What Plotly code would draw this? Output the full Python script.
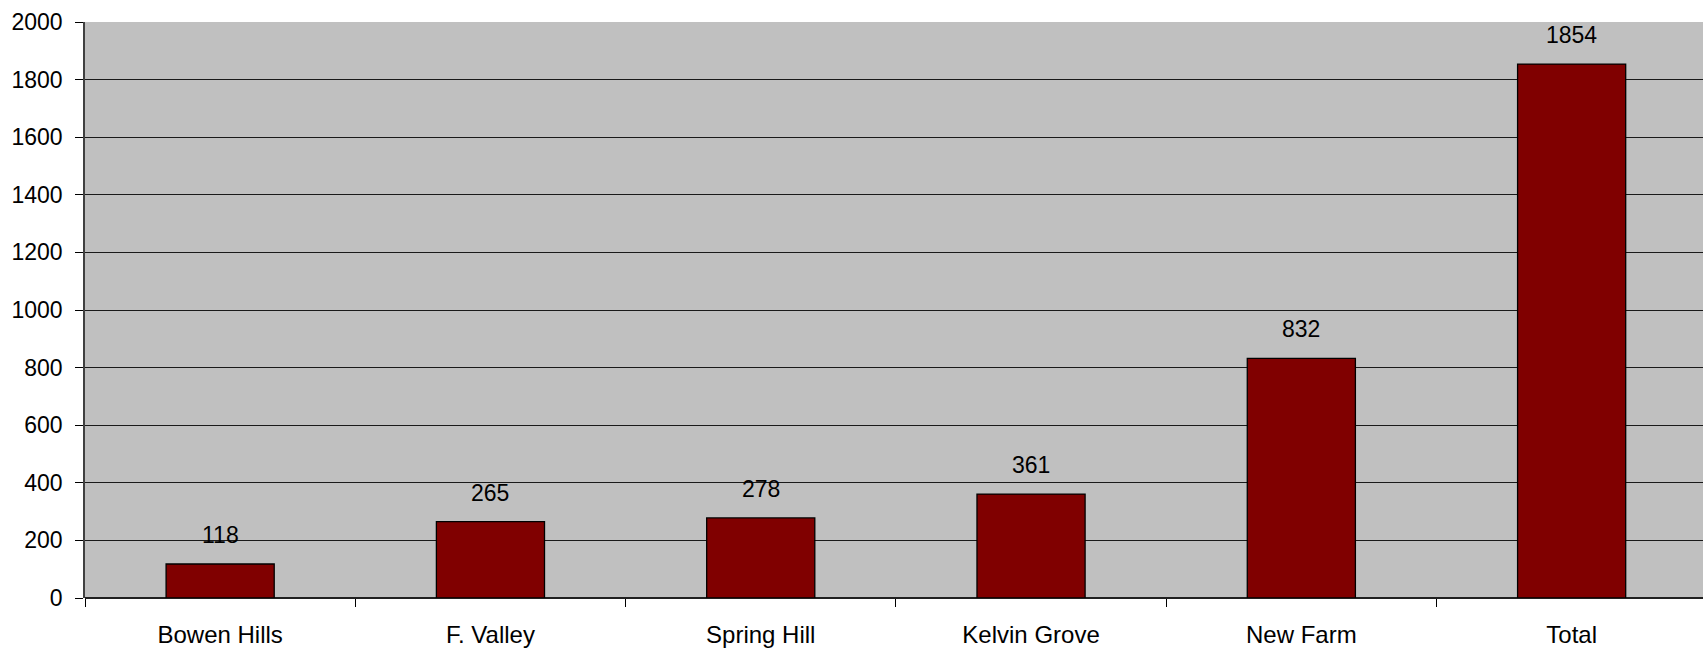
import plotly.graph_objects as go

categories = ["Bowen Hills", "F. Valley", "Spring Hill", "Kelvin Grove", "New Farm", "Total"]
values = [118, 265, 278, 361, 832, 1854]
y_ticks = [0, 200, 400, 600, 800, 1000, 1200, 1400, 1600, 1800, 2000]

FONT = "Liberation Sans, Arial, sans-serif"
FS = 23

fig = go.Figure()
fig.add_trace(go.Bar(
    x=categories, y=values, width=0.4,
    marker=dict(color="#800000", line=dict(color="#000000", width=1.3)),
    hoverinfo="x+y",
))
for c, v in zip(categories, values):
    fig.add_annotation(x=c, y=v, text=str(v), showarrow=False, yshift=29,
                       font=dict(family=FONT, size=FS, color="#000000"))

fig.update_layout(
    width=1703, height=650,
    margin=dict(l=85, r=0, t=22, b=52, autoexpand=False),
    paper_bgcolor="#FFFFFF", plot_bgcolor="#C0C0C0",
    showlegend=False,
    font=dict(family=FONT, size=FS, color="#000000"),
    bargap=0.6,
)
fig.update_xaxes(
    range=[-0.5, 5.486], tickson="boundaries", ticks="outside", ticklen=8,
    tickcolor="#000000", showgrid=False, showline=False,
    ticklabelstandoff=20, tickfont=dict(size=24),
)
fig.update_yaxes(
    range=[0, 2000], tickvals=y_ticks, ticks="outside", ticklen=8, tickcolor="#000000",
    showgrid=True, gridcolor="#1a1a1a", gridwidth=1,
    showline=True, linecolor="#404040", linewidth=1.5,
    zeroline=True, zerolinecolor="#202020", zerolinewidth=1.5,
    ticklabelstandoff=8, tickfont=dict(size=FS),
)
fig.write_html(
    "out.html",
    config={"displayModeBar": False},
    post_script="document.body.style.margin='0';document.body.style.overflow='hidden';",
)
